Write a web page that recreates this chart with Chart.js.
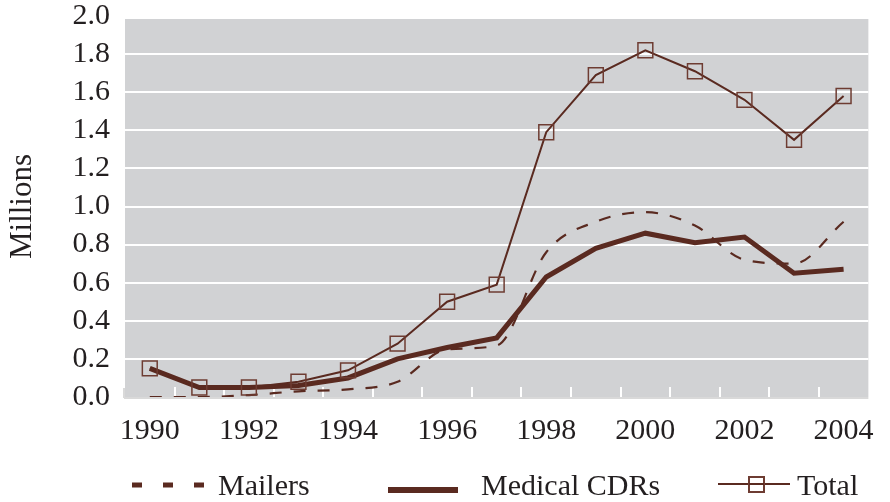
<!DOCTYPE html>
<html>
<head>
<meta charset="utf-8">
<script src="https://cdn.jsdelivr.net/npm/chart.js@4/dist/chart.umd.min.js"></script>
<style>
  html, body { margin: 0; padding: 0; background: #fff; }
  #wrap { width: 890px; height: 502px; }
</style>
</head>
<body>
<div id="wrap"><canvas id="chart" width="890" height="502"></canvas></div>
<script>
// Years on the x axis
const years = ["1990", "1991", "1992", "1993", "1994", "1995", "1996", "1997",
               "1998", "1999", "2000", "2001", "2002", "2003", "2004"];

// Values in millions
const mailers = [0.00, 0.00, 0.01, 0.03, 0.04, 0.08, 0.25, 0.27,
                 0.76, 0.92, 0.97, 0.90, 0.72, 0.70, 0.92];
const medicalCDRs = [0.15, 0.05, 0.05, 0.06, 0.10, 0.20, 0.26, 0.31,
                     0.63, 0.78, 0.86, 0.81, 0.84, 0.65, 0.67];
const total = [0.15, 0.05, 0.05, 0.08, 0.14, 0.28, 0.50, 0.59,
               1.39, 1.69, 1.82, 1.71, 1.56, 1.35, 1.58];

// Y axis ticks
const yTicks = [0.0, 0.2, 0.4, 0.6, 0.8, 1.0, 1.2, 1.4, 1.6, 1.8, 2.0];

const BROWN = "#5a2a20";
const SQUARE = "#6e3c32";
const FONT = "'Liberation Serif', 'Times New Roman', serif";

// Gray plot background, inner tick marks and bottom axis line
const plotDecor = {
  id: "plotDecor",
  beforeDraw(chart) {
    const { ctx, chartArea: a } = chart;
    ctx.save();
    ctx.fillStyle = "#d1d2d4";
    ctx.fillRect(a.left, a.top + 3, a.right - a.left, a.bottom - a.top - 3);
    ctx.restore();
  },
  beforeDatasetsDraw(chart) {
    const { ctx, chartArea: a } = chart;
    const x = chart.scales.x;
    ctx.save();
    // white tick marks between categories
    ctx.strokeStyle = "#ffffff";
    ctx.lineWidth = 2;
    for (let i = 1; i < years.length; i++) {
      const px = Math.round(x.getPixelForValue(i - 0.5));
      ctx.beginPath();
      ctx.moveTo(px, a.bottom - 10);
      ctx.lineTo(px, a.bottom);
      ctx.stroke();
    }
    // axis line + left end tick
    ctx.strokeStyle = "#d9d9d9";
    const left = Math.round(x.getPixelForValue(-0.5)) - 1;
    ctx.beginPath();
    ctx.moveTo(left, a.bottom + 1);
    ctx.lineTo(a.right, a.bottom + 1);
    ctx.moveTo(left, a.bottom - 9);
    ctx.lineTo(left, a.bottom + 1);
    ctx.stroke();
    ctx.restore();
  }
};

// Legend drawn below the axis
const bottomLegend = {
  id: "bottomLegend",
  afterDraw(chart) {
    const { ctx } = chart;
    ctx.save();
    ctx.fillStyle = "#231f20";
    ctx.font = "30px " + FONT;
    ctx.textBaseline = "alphabetic";

    // Mailers
    ctx.strokeStyle = BROWN;
    ctx.lineWidth = 5;
    ctx.setLineDash([10, 21]);
    ctx.beginPath();
    ctx.moveTo(132, 485);
    ctx.lineTo(205, 485);
    ctx.stroke();
    ctx.setLineDash([]);
    ctx.fillText("Mailers", 218, 495);

    // Medical CDRs
    ctx.lineWidth = 6;
    ctx.beginPath();
    ctx.moveTo(388, 490);
    ctx.lineTo(458, 490);
    ctx.stroke();
    ctx.fillText("Medical CDRs", 481, 495);

    // Total
    ctx.lineWidth = 2;
    ctx.beginPath();
    ctx.moveTo(718, 484);
    ctx.lineTo(790, 484);
    ctx.stroke();
    ctx.strokeStyle = SQUARE;
    ctx.fillStyle = "#ffffff";
    ctx.fillRect(749, 477, 15, 15);
    ctx.strokeRect(749, 477, 15, 15);
    ctx.beginPath();
    ctx.moveTo(749, 484);
    ctx.lineTo(764, 484);
    ctx.strokeStyle = BROWN;
    ctx.stroke();
    ctx.fillStyle = "#231f20";
    ctx.fillText("Total", 797, 495);
    ctx.restore();
  }
};

const ctx = document.getElementById("chart").getContext("2d");
new Chart(ctx, {
  type: "line",
  data: {
    labels: years,
    datasets: [
      {
        label: "Total",
        data: total,
        borderColor: BROWN,
        borderWidth: 2,
        pointStyle: "rect",
        pointRadius: 10.5,
        pointBorderWidth: 1.5,
        pointBorderColor: SQUARE,
        pointBackgroundColor: "rgba(0,0,0,0)",
        tension: 0
      },
      {
        label: "Medical CDRs",
        data: medicalCDRs,
        borderColor: BROWN,
        borderWidth: 5,
        pointRadius: 0,
        tension: 0
      },
      {
        label: "Mailers",
        data: mailers,
        borderColor: BROWN,
        borderWidth: 2.2,
        borderDash: [12, 12],
        pointRadius: 0,
        cubicInterpolationMode: "monotone"
      }
    ]
  },
  options: {
    responsive: false,
    animation: false,
    events: [],
    layout: { padding: { top: 16, right: 6, bottom: 55, left: 0 } },
    plugins: {
      legend: { display: false },
      tooltip: { enabled: false }
    },
    scales: {
      x: {
        type: "category",
        offset: true,
        grid: { display: false, drawTicks: false },
        border: { display: false },
        ticks: {
          autoSkip: false,
          maxRotation: 0,
          padding: 16,
          color: "#231f20",
          font: { family: FONT, size: 30 },
          callback: function (val, i) {
            return i % 2 === 0 ? this.getLabelForValue(val) : "";
          }
        },
        afterFit: (s) => { s.height = 50; }
      },
      y: {
        min: yTicks[0],
        max: yTicks[yTicks.length - 1],
        afterBuildTicks: (s) => { s.ticks = yTicks.map((v) => ({ value: v })); },
        grid: {
          drawTicks: true,
          tickLength: 15,
          tickColor: "rgba(0,0,0,0)",
          lineWidth: 2,
          color: (c) => (c.tick && c.tick.value > 0.01 && c.tick.value < 1.99 ? "#ffffff" : "rgba(0,0,0,0)")
        },
        border: { display: false },
        ticks: {
          padding: 0,
          color: "#231f20",
          font: { family: FONT, size: 30, lineHeight: 1 },
          callback: (v) => Number(v).toFixed(1)
        },
        title: {
          display: true,
          text: "Millions",
          color: "#231f20",
          padding: { top: 4, bottom: 0 },
          font: { family: FONT, size: 31 }
        },
        afterFit: (s) => { s.width = 125; }
      }
    }
  },
  plugins: [plotDecor, bottomLegend]
});
</script>
</body>
</html>
